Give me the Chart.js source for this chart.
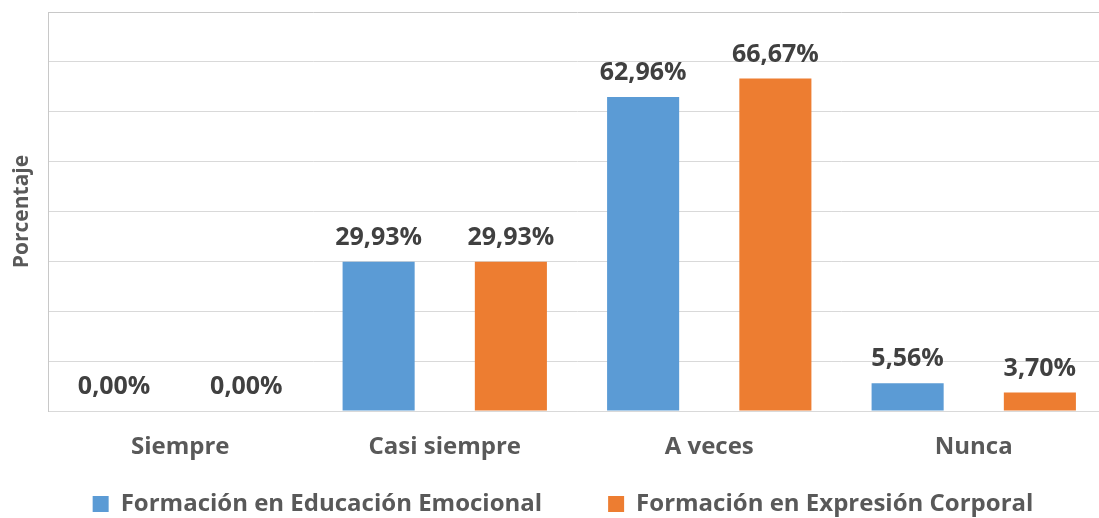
<!DOCTYPE html>
<html>
<head>
<meta charset="utf-8">
<script src="https://cdn.jsdelivr.net/npm/chart.js@4"></script>
<style>
  html, body { margin: 0; padding: 0; background: #ffffff; overflow: hidden; }
  #wrap { width: 1112px; height: 526px; }
</style>
</head>
<body>
<div id="wrap"><canvas id="c" width="1112" height="526"></canvas></div>
<script>
const categories = ['Siempre', 'Casi siempre', 'A veces', 'Nunca'];
const seriesNames = ['Formación en Educación Emocional', 'Formación en Expresión Corporal'];
const emocional = [0.00, 29.93, 62.96, 5.56];
const corporal = [0.00, 29.93, 66.67, 3.70];
const yMin = 0, yMax = 80, yStep = 10;
const yTitle = 'Porcentaje';

const FONT = "'Open Sans', 'DejaVu Sans', sans-serif";

const dataLabels = {
  id: 'dataLabels',
  afterDatasetsDraw(chart) {
    const ctx = chart.ctx;
    ctx.save();
    ctx.font = 'bold 25px ' + FONT;
    ctx.fillStyle = '#404040';
    ctx.textAlign = 'center';
    ctx.textBaseline = 'middle';
    chart.data.datasets.forEach((ds, di) => {
      const meta = chart.getDatasetMeta(di);
      meta.data.forEach((bar, i) => {
        const v = ds.data[i];
        const txt = v.toFixed(2).replace('.', ',') + '%';
        ctx.fillText(txt, bar.x, bar.y - 24);
      });
    });
    ctx.restore();
  }
};

new Chart(document.getElementById('c'), {
  type: 'bar',
  data: {
    labels: categories,
    datasets: [
      { label: seriesNames[0], data: emocional, backgroundColor: '#5B9BD5', borderWidth: 0,
        categoryPercentage: 1.0, barPercentage: 0.545 },
      { label: seriesNames[1], data: corporal, backgroundColor: '#ED7D31', borderWidth: 0,
        categoryPercentage: 1.0, barPercentage: 0.545 }
    ]
  },
  options: {
    responsive: false,
    animation: false,
    events: [],
    layout: { padding: { left: 20, right: 6, top: 12, bottom: 0 } },
    scales: {
      x: {
        grid: { display: false, drawTicks: false },
        border: { display: true, color: '#d9d9d9' },
        ticks: { mirror: true, padding: -51, color: '#595959', font: { family: FONT, size: 24, weight: 'bold' } },
        afterFit(scale) { scale.height = 15; }
      },
      y: {
        min: yMin, max: yMax,
        ticks: { display: false, stepSize: yStep },
        grid: { drawTicks: false, color: (c) => c.tick && c.tick.value === yMax ? '#c8c8c8' : '#d9d9d9', lineWidth: 1 },
        border: { display: true, color: '#c8c8c8' },
        title: { display: true, text: yTitle, color: '#595959', padding: { top: -11, bottom: 0 },
                 font: { family: FONT, size: 21, weight: 'bold' } },
        afterFit(scale) { scale.width = 28; }
      }
    },
    plugins: {
      legend: {
        position: 'bottom',
        labels: { boxWidth: 16, boxHeight: 16, padding: 66, color: '#595959',
                  font: { family: FONT, size: 24, weight: 'bold' } }
      },
      tooltip: { enabled: false }
    }
  },
  plugins: [dataLabels]
});
</script>
</body>
</html>
